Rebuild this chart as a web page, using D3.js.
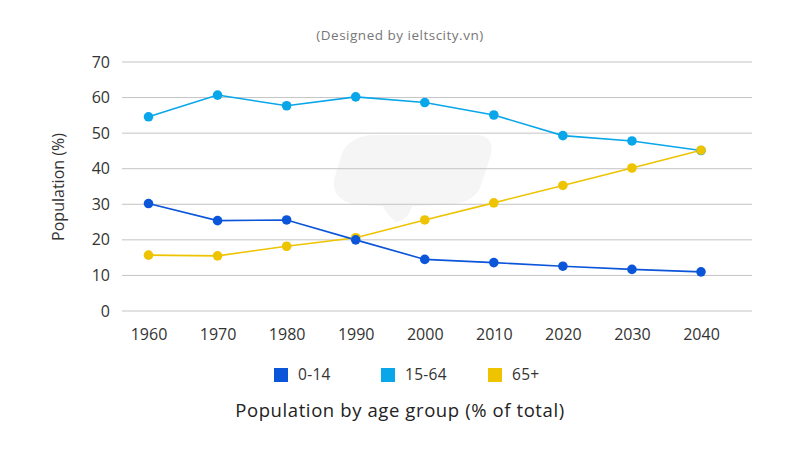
<!DOCTYPE html>
<html>
<head>
<meta charset="utf-8">
<script src="https://cdn.jsdelivr.net/npm/d3@7"></script>
<style>
  html, body { margin: 0; padding: 0; background: #fff; }
  svg { display: block; font-family: "Open Sans", "Noto Sans", sans-serif; }
</style>
</head>
<body>
<svg id="chart" width="800" height="450"></svg>
<script>
const years = ["1960","1970","1980","1990","2000","2010","2020","2030","2040"];
const age0_14  = [30.2, 25.4, 25.6, 20.0, 14.5, 13.6, 12.6, 11.7, 11.0];
const age15_64 = [54.6, 60.7, 57.7, 60.2, 58.6, 55.1, 49.3, 47.8, 45.1];
const age65    = [15.7, 15.5, 18.2, 20.6, 25.6, 30.4, 35.3, 40.2, 45.2];
const seriesNames = ["0-14", "15-64", "65+"];
const seriesColors = ["#0b55d9", "#0aa6ea", "#eec300"];
const yTicks = [0, 10, 20, 30, 40, 50, 60, 70];

const series = [
  { name: seriesNames[0], color: seriesColors[0], values: age0_14 },
  { name: seriesNames[1], color: seriesColors[1], values: age15_64 },
  { name: seriesNames[2], color: seriesColors[2], values: age65 }
];

const svg = d3.select("#chart");
const gridLeft = 122, gridRight = 752;

const x = d3.scalePoint().domain(years).range([148.5, 701]);
const y = d3.scaleLinear().domain([0, 70]).range([311, 62]);

// watermark (behind grid)
svg.append("path")
  .attr("d", "M340,160 Q345,137 372,135 L478,135 Q496,137 490,158 L480,188 Q472,204 445,205 L412,206 Q408,220 396,222 Q386,214 383,206 L356,205 Q332,200 334,180 Z")
  .attr("fill", "#f5f5f5");

// title
svg.append("text")
  .attr("x", 400).attr("y", 40)
  .attr("text-anchor", "middle")
  .attr("font-size", 13.5)
  .attr("letter-spacing", 0.5)
  .attr("fill", "#777")
  .text("(Designed by ieltscity.vn)");

// y axis labels
const yAxis = d3.axisLeft(y).tickValues(yTicks).tickSize(0).tickPadding(12);
const gy = svg.append("g").attr("transform", `translate(${gridLeft},0)`).call(yAxis);
gy.select(".domain").remove();
gy.selectAll("text").attr("font-size", 16).attr("fill", "#333").attr("font-family", "'Open Sans', sans-serif");

// gridlines
svg.append("g").selectAll("line").data(yTicks).join("line")
  .attr("x1", gridLeft).attr("x2", gridRight)
  .attr("y1", d => y(d)).attr("y2", d => y(d))
  .attr("stroke", "#c4c4c4").attr("stroke-width", 1);

// x axis
const xAxis = d3.axisBottom(x).tickSize(0).tickPadding(18);
const gx = svg.append("g").attr("transform", `translate(0,${y(0)})`).call(xAxis);
gx.select(".domain").remove();
gx.selectAll("text").attr("font-size", 16).attr("fill", "#333").attr("font-family", "'Open Sans', sans-serif");

// y label
svg.append("text")
  .attr("transform", "translate(64,187) rotate(-90)")
  .attr("text-anchor", "middle")
  .attr("font-size", 16)
  .attr("fill", "#333")
  .text("Population (%)");

// lines
const line = d3.line().x((d, i) => x(years[i])).y(d => y(d));
const drawOrder = [series[1], series[2], series[0]];
drawOrder.forEach(s => {
  svg.append("path")
    .datum(s.values)
    .attr("d", line)
    .attr("fill", "none")
    .attr("stroke", s.color)
    .attr("stroke-width", 1.6);
});
drawOrder.forEach(s => {
  svg.append("g").selectAll("circle").data(s.values).join("circle")
    .attr("cx", (d, i) => x(years[i]))
    .attr("cy", d => y(d))
    .attr("r", 4.8)
    .attr("fill", s.color);
});

// legend
const legendX = [274, 381, 488];
const lg = svg.append("g");
series.forEach((s, i) => {
  lg.append("rect")
    .attr("x", legendX[i]).attr("y", 368)
    .attr("width", 14).attr("height", 14)
    .attr("fill", s.color);
  lg.append("text")
    .attr("x", legendX[i] + 24).attr("y", 380)
    .attr("font-size", 15.5)
    .attr("letter-spacing", 0.3)
    .attr("fill", "#333")
    .text(s.name);
});

// bottom title
svg.append("text")
  .attr("x", 400).attr("y", 417)
  .attr("text-anchor", "middle")
  .attr("font-size", 18.5)
  .attr("letter-spacing", 0.6)
  .attr("fill", "#222")
  .text("Population by age group (% of total)");
</script>
</body>
</html>
